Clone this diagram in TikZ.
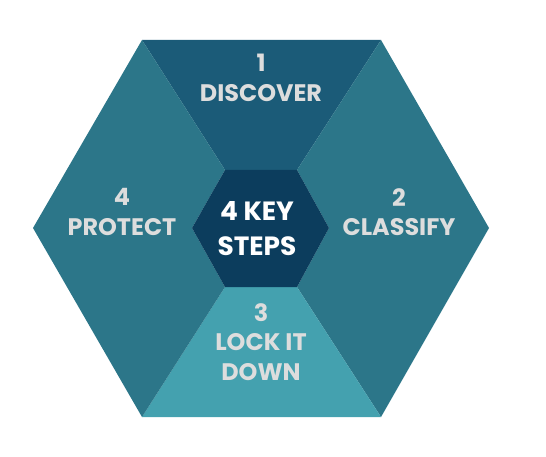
\documentclass[tikz,border=0pt]{standalone}
\usepackage{fontspec}
\setmainfont{Poppins}
\definecolor{discoverblue}{HTML}{1B5B78}
\definecolor{sideblue}{HTML}{2C7689}
\definecolor{lockblue}{HTML}{44A1AF}
\definecolor{keyblue}{HTML}{0C3D5D}
\definecolor{labelgray}{HTML}{DDDDDD}
\begin{document}
\begin{tikzpicture}[x=1bp, y=-1bp,
    steplabel/.style={text=labelgray, font=\bfseries\fontsize{24}{29.5}\selectfont, align=center},
    keylabel/.style={text=white, font=\bfseries\fontsize{26.5}{35}\selectfont, align=center}]
        \useasboundingbox (0,0) rectangle (546,457);

        % outer hexagon
        \coordinate (otl) at (142,40);
        \coordinate (otr) at (381,40);
        \coordinate (or) at (489,228);
        \coordinate (obr) at (381,417);
        \coordinate (obl) at (142,417);
        \coordinate (ol) at (33,228);
        % inner hexagon
        \coordinate (itl) at (225,170);
        \coordinate (itr) at (297,170);
        \coordinate (ir) at (329,228);
        \coordinate (ibr) at (297,287);
        \coordinate (ibl) at (225,287);
        \coordinate (il) at (192,228);

        \fill[discoverblue] (otl) -- (otr) -- (itr) -- (itl) -- cycle;
        \fill[sideblue] (otr) -- (or) -- (obr) -- (ibr) -- (ir) -- (itr) -- cycle;
        \fill[lockblue] (obl) -- (obr) -- (ibr) -- (ibl) -- cycle;
        \fill[sideblue] (otl) -- (ol) -- (obl) -- (ibl) -- (il) -- (itl) -- cycle;
        \fill[keyblue] (itl) -- (itr) -- (ir) -- (ibr) -- (ibl) -- (il) -- cycle;

        \node[steplabel] (discover) at (261,78) {1\\DISCOVER};
        \node[steplabel] (classify) at (399,212) {2\\CLASSIFY};
        \node[steplabel] (lockdown) at (261,342) {3\\LOCK IT\\DOWN};
        \node[steplabel] (protect) at (122,212) {4\\PROTECT};
        \node[keylabel] (keysteps) at (257,229) {4 KEY\\STEPS};
    \end{tikzpicture}
\end{document}
